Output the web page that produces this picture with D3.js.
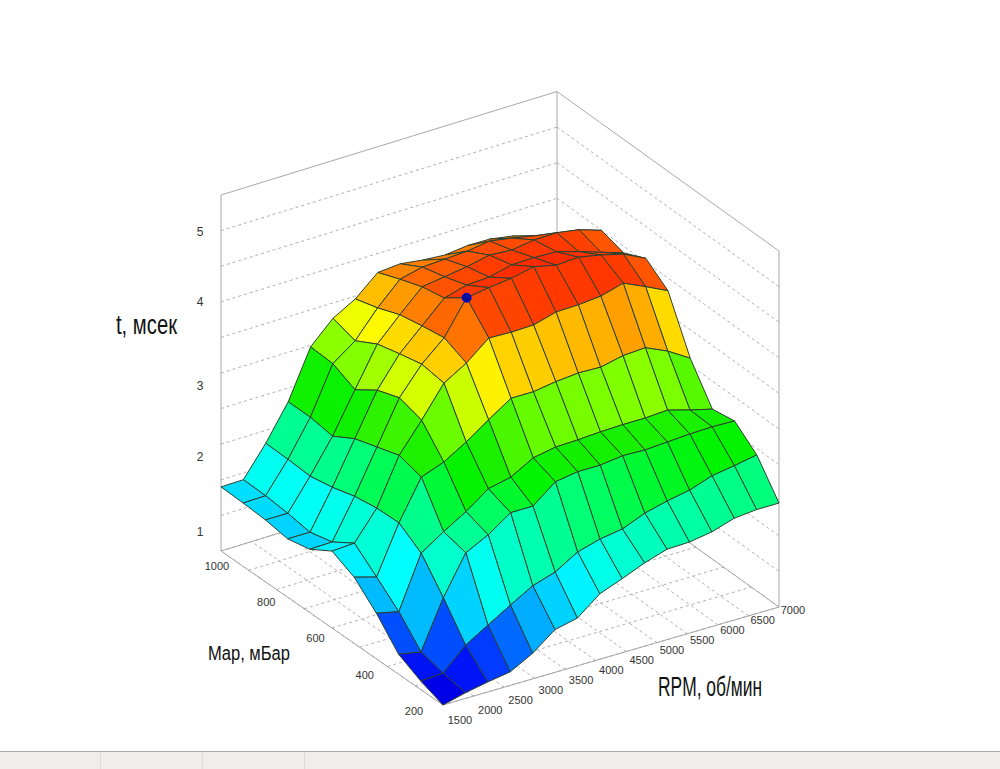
<!DOCTYPE html>
<html><head><meta charset="utf-8">
<script src="https://cdnjs.cloudflare.com/ajax/libs/d3/7.8.5/d3.min.js"></script>
<style>html,body{margin:0;padding:0;background:#fff;overflow:hidden}svg{display:block}text{font-family:"Liberation Sans",Arial,sans-serif}</style>
</head><body><svg id="c" width="1000" height="769"></svg>
<script>
const rpmGrid=[1500,1867,2233,2600,2967,3333,3700,4067,4433,4800,5167,5533,5900,6267,6633,7000];
const mapGrid=[200,280,360,440,520,600,680,760,840,920,1000];
// t (ms) : one row per rpmGrid value, one entry per mapGrid value
const tValues=[
[.50,.62,.78,1.14,1.43,1.58,1.39,1.32,1.37,1.39,1.40],
[.58,.64,.72,1.07,1.34,1.60,1.40,1.32,1.37,1.40,1.41],
[.64,.94,1.39,1.80,2.01,2.00,1.95,1.86,1.80,1.82,1.83],
[.69,1.13,1.93,2.01,2.56,2.65,2.55,2.45,2.27,2.32,2.32],
[.86,1.32,2.09,2.20,2.68,3.05,3.15,3.04,2.83,2.98,3.00],
[1.10,1.50,2.31,2.43,2.87,3.48,3.53,3.46,3.38,3.21,3.31],
[1.17,1.60,2.31,2.50,3.09,3.67,3.81,3.76,3.70,3.58,3.49],
[1.42,1.79,2.56,2.68,3.30,3.93,4.28,4.06,4.00,3.89,3.77],
[1.54,1.88,2.61,2.74,3.30,3.92,4.33,4.15,4.05,3.97,3.80],
[1.67,1.93,2.61,2.75,3.35,3.93,4.37,4.17,4.10,3.99,3.76],
[1.77,2.06,2.65,2.77,3.38,4.02,4.44,4.25,4.17,4.01,3.74],
[1.78,2.14,2.64,2.78,3.37,4.03,4.37,4.26,4.15,4.06,3.78],
[1.83,2.20,2.66,2.78,3.44,4.06,4.39,4.25,4.20,4.01,3.78],
[1.93,2.31,2.68,2.80,3.46,4.15,4.33,4.16,4.21,3.95,3.73],
[1.96,2.36,2.69,2.71,3.32,4.01,4.25,4.06,4.16,3.86,3.58],
[1.96,2.42,2.68,2.63,3.13,3.86,4.10,3.96,4.06,3.78,3.42]];
const rpmTicks=[1500,2000,2500,3000,3500,4000,4500,5000,5500,6000,6500,7000];
const mapTicks=[200,400,600,800,1000];
const mapGridLines=[200,300,400,500,600,700,800,900,1000];
const tTicks=[1,2,3,4,5];
const tGridLines=[1,1.5,2,2.5,3,3.5,4,4.5,5];
const markerRpm=4067, markerMap=680, markerT=4.28;
const colourStops=[.6,.75,.95,1.1,1.25,1.55,1.9,2.2,2.5,2.7,2.85,3.1,3.3,3.45,3.7,3.9,4.15,4.35];
const colourRange=["#0000e6","#0020ff","#0055ff","#0090ff","#00beff","#00ffff","#00ffb4","#00ff78","#00f400","#14f000","#3cf500","#82ff00","#d4ff00","#ffff00","#ffb900","#ff7800","#ff4000","#ff2800"];

const svg=d3.select("#c");
const tr=d3.scaleLinear().domain([1500,7000]).range([0,1]);
const tm=d3.scaleLinear().domain([200,1000]).range([0,1]);
const tz=d3.scaleLinear().domain([.5,5.5]).range([0,356]);
const px=(r,m)=>443+336*tr(r)-222*tm(m);
const py=(r,m,z)=>705-98*tr(r)-154*tm(m)-tz(z);
const colour=d3.scaleLinear().domain(colourStops).range(colourRange).clamp(true);
const line=(g,a,b,o)=>g.append("line").attr("x1",a[0]).attr("y1",a[1]).attr("x2",b[0]).attr("y2",b[1]).attr("stroke",o.c).attr("stroke-width",1).attr("stroke-dasharray",o.d||null);
const P=(r,m,z)=>[px(r,m),py(r,m,z)];
// the box corner furthest from the viewer sits slightly higher on the picture
const B=(r,m,z)=>[px(r,m),py(r,m,z)-5.5*tr(r)*tm(m)];
const grid=svg.append("g");
const dash={c:"#b0b0b0",d:"3,3"}, solid={c:"#a8a8a8"};
tGridLines.forEach(z=>{line(grid,B(1500,1000,z),B(7000,1000,z),dash);line(grid,B(7000,1000,z),B(7000,200,z),dash);});
rpmTicks.forEach(r=>line(grid,B(r,200,.5),B(r,1000,.5),dash));
mapGridLines.forEach(m=>line(grid,B(1500,m,.5),B(7000,m,.5),dash));
[[[1500,1000,.5],[1500,1000,5.5]],[[7000,1000,.5],[7000,1000,5.5]],[[7000,200,.5],[7000,200,5.5]],
 [[1500,1000,5.5],[7000,1000,5.5]],[[7000,1000,5.5],[7000,200,5.5]],
 [[1500,1000,.5],[1500,200,.5]],[[1500,200,.5],[7000,200,.5]],
 [[1500,1000,.5],[7000,1000,.5]],[[7000,1000,.5],[7000,200,.5]]]
 .forEach(e=>line(grid,B(...e[0]),B(...e[1]),solid));
// surface: far cells first
const cells=[];
d3.range(mapGrid.length-2,-1,-1).forEach(j=>d3.range(rpmGrid.length-2,-1,-1).forEach(i=>cells.push([i,j])));
svg.append("g").selectAll("path").data(cells).join("path")
 .attr("d",([i,j])=>{const p=[[i,j],[i+1,j],[i+1,j+1],[i,j+1]].map(([a,b])=>P(rpmGrid[a],mapGrid[b],tValues[a][b]));return d3.line()(p)+"Z";})
 .attr("fill",([i,j])=>colour(d3.mean([tValues[i][j],tValues[i+1][j],tValues[i+1][j+1],tValues[i][j+1]])))
 .attr("stroke","#2c4030").attr("stroke-width",1).attr("stroke-linejoin","round");
svg.append("circle").attr("cx",px(markerRpm,markerMap)).attr("cy",py(markerRpm,markerMap,markerT)).attr("r",4.5).attr("fill","#00109a").attr("stroke","#0000e0").attr("stroke-width",1);
const lab=svg.append("g").attr("font-size",11).attr("fill","#333").attr("text-anchor","middle").attr("dominant-baseline","middle");
const lrx=d3.scaleLinear().domain([1500,7000]).range([460,793]), lry=d3.scaleLinear().domain([1500,7000]).range([721,611]);
const lmx=d3.scaleLinear().domain([200,1000]).range([414,217]), lmy=d3.scaleLinear().domain([200,1000]).range([712,567]);
rpmTicks.forEach(r=>lab.append("text").attr("x",lrx(r)).attr("y",lry(r)).text(r));
mapTicks.forEach(m=>lab.append("text").attr("x",lmx(m)).attr("y",lmy(m)).text(m));
const tLabelNudge=[17.6,14,14,1,2.4]; // hand-placed offsets of the tick labels from their gridline
tTicks.forEach((t,k)=>lab.append("text").attr("x",200).attr("y",py(1500,1000,t)+tLabelNudge[k]).attr("font-size",12).text(t));
const title=(s,x,y,size,len)=>svg.append("text").attr("x",x).attr("y",y).attr("font-size",size).attr("fill","#111").attr("textLength",len).attr("lengthAdjust","spacingAndGlyphs").text(s);
title("t, мсек",116,334,27,61);
title("Map, мБар",208,660,20,82);
title("RPM, об/мин",658,696,28,104);
const strip=svg.append("g");
strip.append("rect").attr("x",0).attr("y",751).attr("width",1000).attr("height",18).attr("fill","#f0eeed");
strip.append("line").attr("x1",0).attr("x2",1000).attr("y1",751.5).attr("y2",751.5).attr("stroke","#a9a9a9");
[100.5,202.5,304.5].forEach(x=>strip.append("line").attr("x1",x).attr("x2",x).attr("y1",752).attr("y2",769).attr("stroke","#dcdcdc"));
</script></body></html>
